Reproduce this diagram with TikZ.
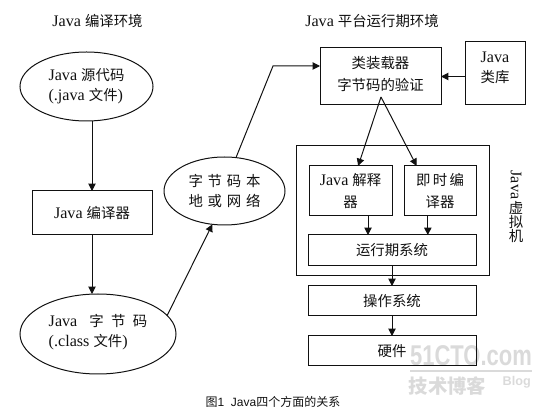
\documentclass[tikz,border=0pt]{standalone}
\usepackage{fontspec}
\usepackage{xcolor}
\usepackage{tikz}
\usetikzlibrary{arrows.meta,positioning,shapes.geometric,calc}
\setmainfont[Scale=1.12]{Liberation Serif}
\newfontfamily\cjkfont{Noto Sans CJK SC}
\newfontfamily\capfont{Liberation Sans}
\newcommand{\zh}[1]{{\cjkfont #1}}
\definecolor{ink}{HTML}{111111}
\definecolor{wmgrey}{HTML}{DADADA}

\begin{document}
\begin{tikzpicture}[
  x=0.75pt, y=-0.75pt,
  every node/.style={font=\fontsize{10.8}{15}\selectfont, text=ink},
  blob/.style={ellipse, draw=ink, line width=0.75pt, inner sep=0pt, outer sep=0pt, align=left},
  layer/.style={rectangle, draw=ink, line width=0.75pt, inner sep=0pt, outer sep=0pt, align=center},
  arrow/.style={-{Triangle[length=5.5pt,width=5.5pt]}, line width=0.75pt, draw=ink},
  wmark/.style={font=\capfont\bfseries\fontsize{16.5}{18}\selectfont, text=wmgrey, inner sep=0pt}
]
\useasboundingbox (0,0) rectangle (546,409);

% watermark goes under the boxes
\node[wmark, yscale=1.3] (wmsite) at (471,356) {51CTO.com};
\node[wmark, font=\cjkfont\bfseries\fontsize{14.5}{16}\selectfont] (wmblog) at (447.5,386) {技术博客};
\node[wmark, font=\capfont\bfseries\fontsize{9.5}{10}\selectfont, right=12pt of wmblog, yshift=3pt] (wmtag) {Blog};
\coordinate (wmruleL) at (410,371);
\coordinate (wmruleR) at (532,371);
\draw[wmgrey, line width=1.5pt] (wmruleL) -- (wmruleR);

\node (titleL) at (97.5,21) {Java \zh{编译环境}};
\node (titleR) at (372,21) {Java \zh{平台运行期环境}};

\node[blob, minimum width=99.75pt, minimum height=51.75pt] (source) at (86.5,86.5) {Java\ \zh{源代码}\\(.java \zh{文件})};
\node[layer, minimum width=90pt, minimum height=33pt] (compiler) at (92,213) {Java \zh{编译器}};
\node[blob, minimum width=117pt, minimum height=60pt] (bytecode) at (98,334) {Java\hspace{9pt}\zh{字\hspace{5.5pt}节\hspace{5.5pt}码}\\(.class \zh{文件})\\[-9pt]};
\node[blob, align=center, minimum width=90.75pt, minimum height=51pt] (medium) at (224.5,191) {\zh{字\,\,节\,\,码\,\,本}\\\zh{地\,\,或\,\,网\,\,络}};

\node[layer, minimum width=90.75pt, minimum height=42.75pt, font=\fontsize{10.8}{16.5}\selectfont] (loader) at (380.5,76.5) {\zh{类装载器}\\\zh{字节码的验证}\\[-12.5pt]};
\node[layer, minimum width=45pt, minimum height=47.25pt] (javalib) at (495,73.5) {Java\\\zh{类库}\\[-6pt]};
\node[layer, minimum width=144.75pt, minimum height=97.5pt] (jvm) at (392.5,211) {};
\node[layer, minimum width=62.25pt, minimum height=37.5pt, font=\fontsize{10.8}{17}\selectfont] (interp) at (350.5,191) {Java \zh{解释}\\\zh{器}};
\node[layer, minimum width=54pt, minimum height=37.5pt, font=\fontsize{10.8}{17}\selectfont] (jit) at (440,191) {\zh{即\,时\,编}\\\zh{译器}};
\node[layer, minimum width=126pt, minimum height=23.25pt] (runtime) at (392,250.5) {\zh{运行期系统}};
\node[layer, minimum width=126pt, minimum height=22.5pt, below=15pt of runtime] (opsys) {\zh{操作系统}};
\node[layer, minimum width=126pt, minimum height=22pt, below=15pt of opsys] (hardware) {\zh{硬件}};

\node[rotate=-90, inner sep=0pt] (vmname) at (516,185) {Java};
\node[align=center, inner sep=0pt, font=\fontsize{10.8}{10.5}\selectfont] (vmzh) at (516,222) {\zh{虚}\\\zh{拟}\\\zh{机}};

\node[font=\capfont\fontsize{9}{11}\selectfont] (caption) at (273,402) {\zh{图}1\ \ Java\zh{四个方面的关系}};

\coordinate (bend) at (273,66);
\coordinate (split) at (381,97);

\draw[arrow] (compiler.north |- source.south) -- (compiler.north);
\draw[arrow] (compiler.south) -- (compiler.south |- bytecode.north);
\draw[arrow] (bytecode.15) -- (medium.250);
\draw[arrow] (medium.71) -- (bend) -- (bend -| loader.west);
\draw[arrow] (javalib.west |- loader.west) -- (loader.east);
\draw[arrow] (split) -- (interp.73);
\draw[arrow] (split) -- (jit.133);
\draw[arrow] (interp.-55) -- (interp.-55 |- runtime.north);
\draw[arrow] (jit.-116) -- (jit.-116 |- runtime.north);
\draw[arrow] (runtime) -- (opsys);
\draw[arrow] (opsys) -- (hardware);
\end{tikzpicture}
\end{document}
